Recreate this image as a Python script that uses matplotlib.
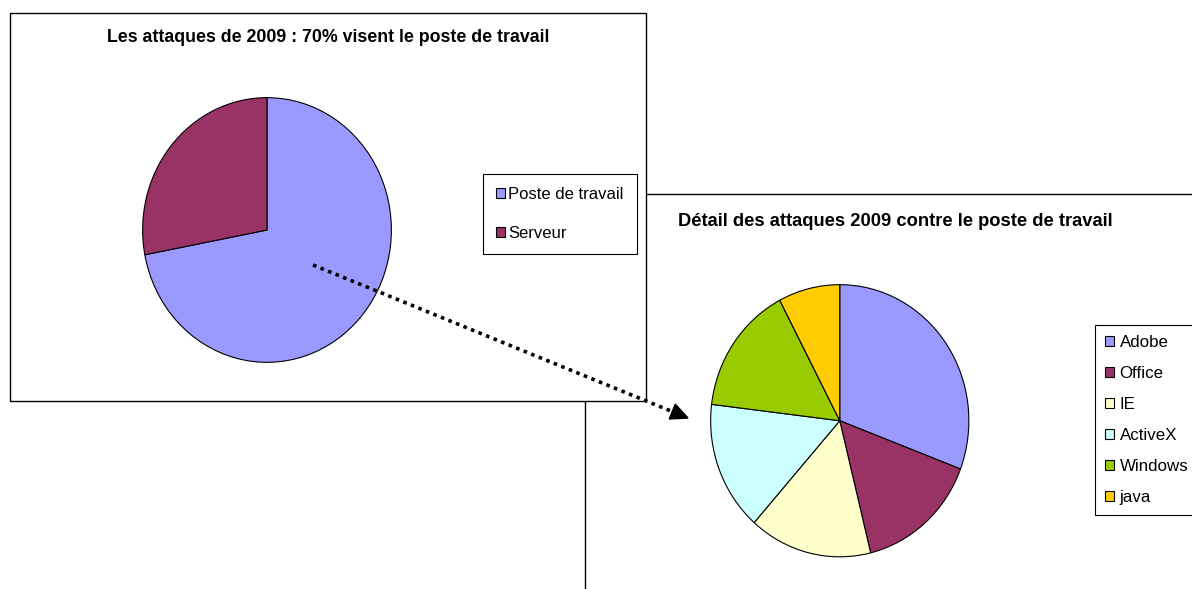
import matplotlib
matplotlib.use("Agg")
import matplotlib.pyplot as plt
from matplotlib.patches import Rectangle, Polygon

plt.rcParams['font.family'] = ['Liberation Sans', 'DejaVu Sans']

# ---- data ----
overview_title = "Les attaques de 2009 : 70% visent le poste de travail"
overview_labels = ["Poste de travail", "Serveur"]
overview_values = [72, 28]
overview_colors = ["#9999FF", "#993366"]

detail_title = "Détail des attaques 2009 contre le poste de travail"
detail_labels = ["Adobe", "Office", "IE", "ActiveX", "Windows", "java"]
detail_values = [4, 2, 2, 2, 2, 1]
detail_colors = ["#9999FF", "#993366", "#FFFFCC", "#CCFFFF", "#99CC00", "#FFCC00"]

W, H = 1192, 589
fig = plt.figure(figsize=(W / 100, H / 100), dpi=100)
fig.patch.set_facecolor("white")


def fx(px):
    return px / W


def fy(py):
    return 1 - py / H


# background drawing layer in pixel coords
bg = fig.add_axes([0, 0, 1, 1])
bg.set_xlim(0, W)
bg.set_ylim(H, 0)
bg.axis("off")

# right chart frame (behind)
bg.add_patch(Rectangle((585, 194), 700, 500, facecolor="white", edgecolor="black", lw=1.0, zorder=1))
# left chart frame (front)
bg.add_patch(Rectangle((10, 13), 636, 388, facecolor="white", edgecolor="black", lw=1.0, zorder=2))

bg.text(328.5, 42.5, overview_title, ha="center", va="baseline", fontsize=12.8, fontweight="bold", zorder=3)
bg.text(895, 226.5, detail_title, ha="center", va="baseline", fontsize=13.2, fontweight="bold", zorder=3)

# left pie
ax1 = fig.add_axes([fx(142), fy(363), fx(250), 266 / H])
w1, _ = ax1.pie(overview_values, colors=overview_colors, startangle=90, counterclock=False,
                wedgeprops=dict(edgecolor="black", linewidth=0.8))
ax1.set_xlim(-1.005, 1.005)
ax1.set_ylim(-1.005, 1.005)
ax1.set_aspect("auto")

# right pie
ax2 = fig.add_axes([fx(710), fy(557.5), fx(259.5), 273.5 / H])
w2, _ = ax2.pie(detail_values, colors=detail_colors, startangle=90, counterclock=False,
                wedgeprops=dict(edgecolor="black", linewidth=0.8))
ax2.set_xlim(-1.005, 1.005)
ax2.set_ylim(-1.005, 1.005)
ax2.set_aspect("auto")

# dotted arrow
x0, y0 = 313, 265
xt, yt = 688, 418
dx, dy = xt - x0, yt - y0
L = (dx ** 2 + dy ** 2) ** 0.5
ux, uy = dx / L, dy / L
hl, hw = 17, 8
bx, by = xt - hl * ux, yt - hl * uy
ov = fig.add_axes([0, 0, 1, 1])
ov.set_xlim(0, W)
ov.set_ylim(H, 0)
ov.axis("off")
ov.plot([x0, bx], [y0, by], color="black", lw=2.6, linestyle=(0, (1.0, 1.25)), dash_capstyle="butt")
ov.add_patch(Polygon([(xt, yt), (bx - hw * uy, by + hw * ux), (bx + hw * uy, by - hw * ux)],
                     closed=True, facecolor="black", edgecolor="black"))

# legends
leg1 = fig.legend(w1, overview_labels, loc="upper left", bbox_to_anchor=(fx(483), fy(174)),
                  fontsize=12, frameon=True, fancybox=False, shadow=False, framealpha=1,
                  edgecolor="black", handlelength=0.55, handleheight=0.55, handletextpad=0.18,
                  labelspacing=1.45, borderpad=0.78, borderaxespad=0)
leg1.get_frame().set_linewidth(0.8)

leg2 = fig.legend(w2, detail_labels, loc="upper left",
                  bbox_to_anchor=(fx(1095), fy(325)),
                  fontsize=12.2, frameon=True, fancybox=False, shadow=False, framealpha=1,
                  edgecolor="black", handlelength=0.55, handleheight=0.55, handletextpad=0.3,
                  labelspacing=0.94, borderpad=0.6, borderaxespad=0)
leg2.get_frame().set_linewidth(0.8)

fig.savefig("out.png", dpi=100)
